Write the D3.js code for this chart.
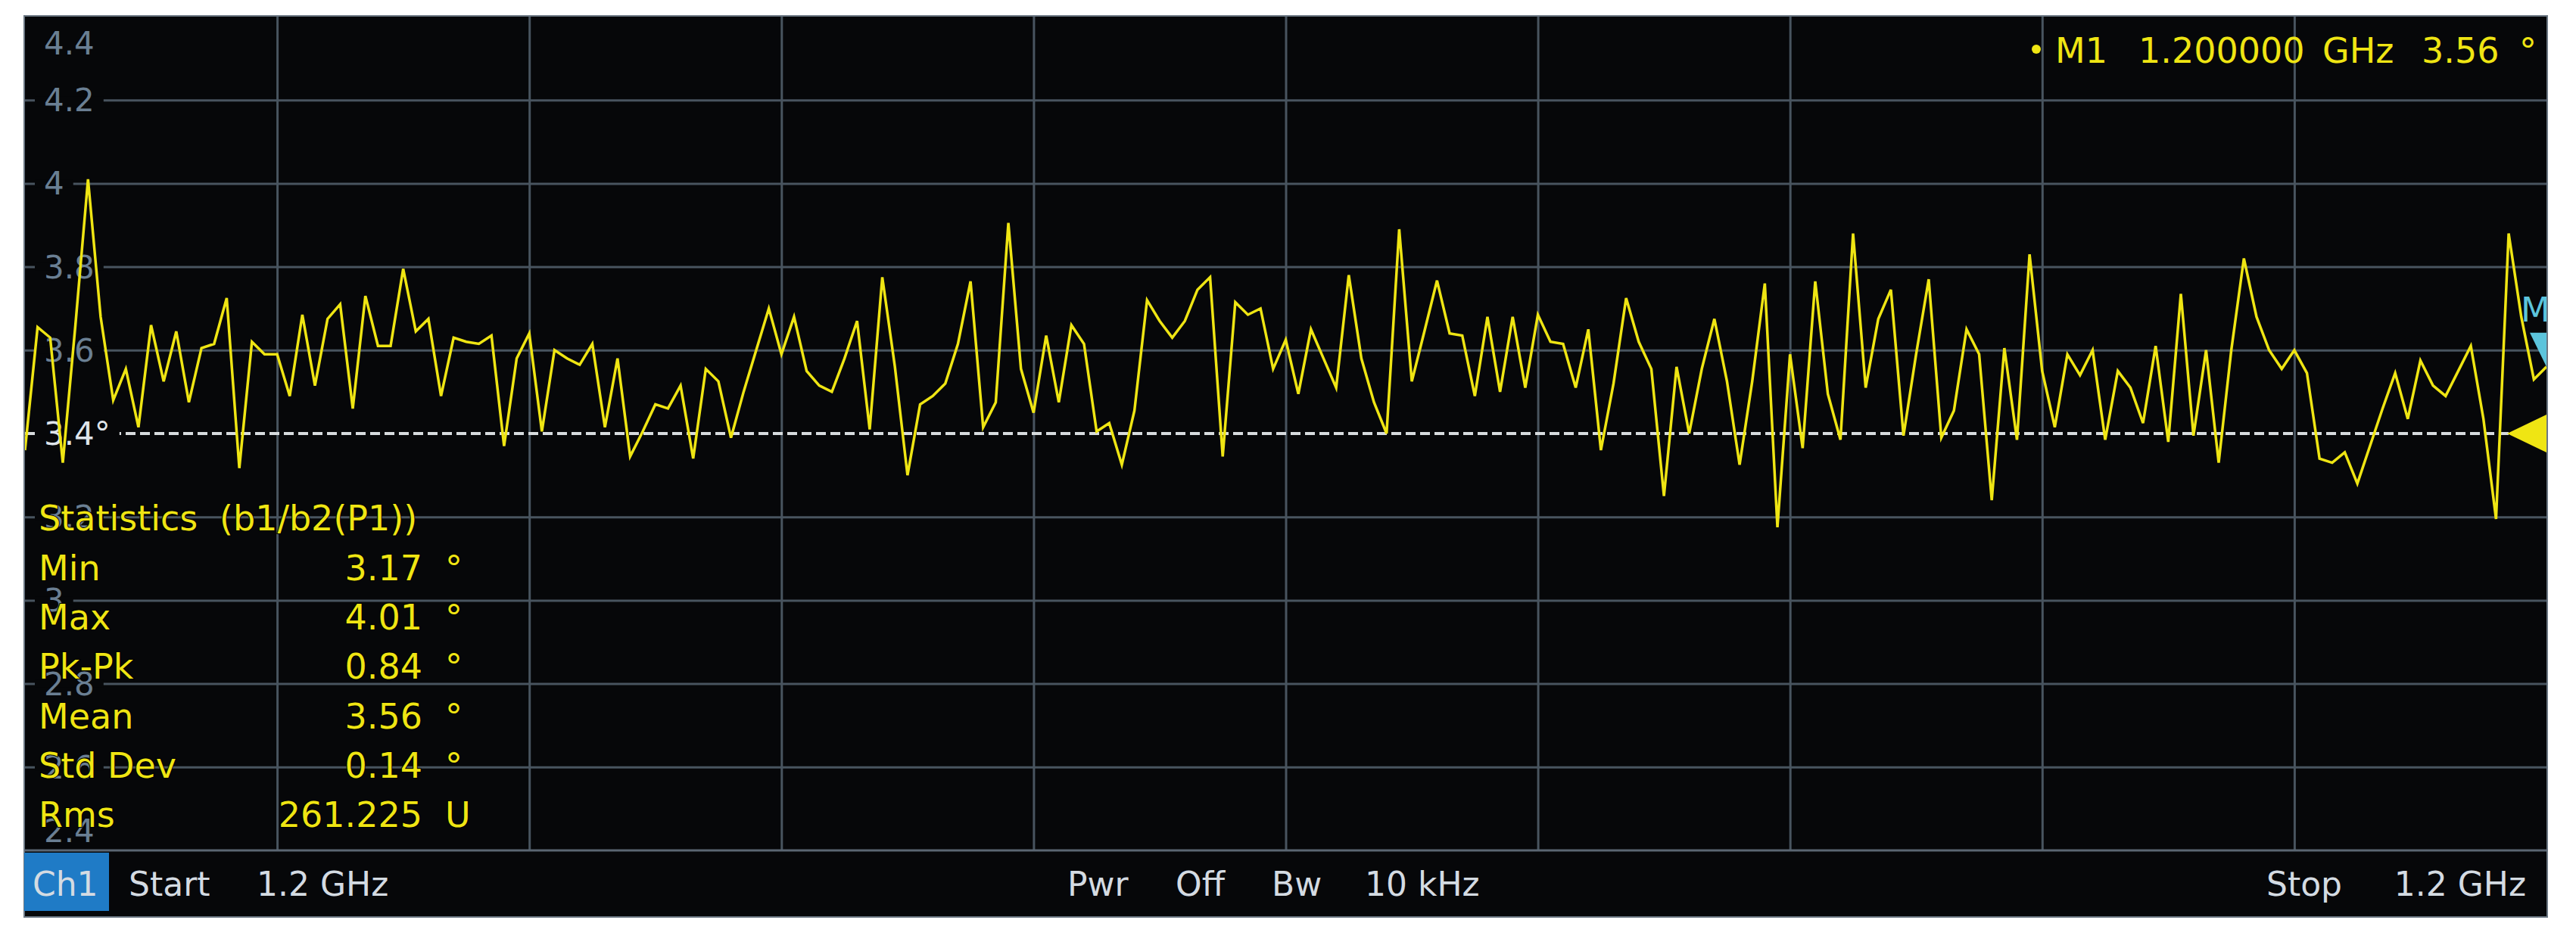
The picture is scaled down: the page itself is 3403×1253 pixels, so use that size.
<!DOCTYPE html>
<html>
<head>
<meta charset="utf-8">
<script src="https://cdn.jsdelivr.net/npm/d3@7"></script>
<style>
  body { margin: 0; background: #ffffff; }
  svg { display: block; font-family: "DejaVu Sans", sans-serif; }
</style>
</head>
<body>
<svg id="chart" width="3403" height="1253"></svg>
<script>
// trace values (degrees), one per sweep point, 201 points
const phase = [
  3.36, 3.655, 3.63, 3.33, 3.66, 4.01, 3.68, 3.48, 3.555, 3.415,
  3.66, 3.525, 3.645, 3.475, 3.605, 3.615, 3.725, 3.317, 3.62, 3.59,
  3.59, 3.49, 3.685, 3.515, 3.675, 3.71, 3.46, 3.73, 3.61, 3.61,
  3.795, 3.645, 3.675, 3.49, 3.63, 3.62, 3.615, 3.635, 3.37, 3.58,
  3.64, 3.405, 3.60, 3.58, 3.565, 3.615, 3.415, 3.58, 3.345, 3.405,
  3.47, 3.46, 3.515, 3.34, 3.555, 3.525, 3.39, 3.50, 3.60, 3.70,
  3.59, 3.68, 3.55, 3.515, 3.50, 3.58, 3.67, 3.41, 3.775, 3.56,
  3.30, 3.47, 3.49, 3.52, 3.615, 3.765, 3.415, 3.475, 3.905, 3.555,
  3.45, 3.635, 3.475, 3.66, 3.615, 3.405, 3.425, 3.325, 3.455, 3.72,
  3.67, 3.63, 3.67, 3.745, 3.775, 3.345, 3.715, 3.685, 3.70, 3.555,
  3.625, 3.495, 3.65, 3.58, 3.51, 3.78, 3.58, 3.475, 3.40, 3.89,
  3.525, 3.645, 3.767, 3.64, 3.635, 3.49, 3.68, 3.50, 3.68, 3.51,
  3.685, 3.62, 3.615, 3.51, 3.65, 3.36, 3.52, 3.725, 3.62, 3.555,
  3.25, 3.56, 3.40, 3.555, 3.675, 3.525, 3.325, 3.525, 3.76, 3.175,
  3.59, 3.365, 3.765, 3.495, 3.385, 3.88, 3.51, 3.675, 3.745, 3.395,
  3.59, 3.77, 3.39, 3.455, 3.65, 3.59, 3.24, 3.605, 3.385, 3.83,
  3.55, 3.415, 3.59, 3.54, 3.60, 3.385, 3.55, 3.51, 3.425, 3.61,
  3.38, 3.735, 3.395, 3.60, 3.33, 3.60, 3.82, 3.68, 3.60, 3.555,
  3.60, 3.545, 3.34, 3.33, 3.355, 3.28, 3.37, 3.46, 3.545, 3.435,
  3.575, 3.515, 3.49, 3.55, 3.61, 3.435, 3.195, 3.88, 3.68, 3.53,
  3.56
];

const yTicks = [4.4, 4.2, 4.0, 3.8, 3.6, 3.4, 3.2, 3.0, 2.8, 2.6, 2.4];
const yTickLabels = ["4.4", "4.2", "4", "3.8", "3.6", "3.4°", "3.2", "3", "2.8", "2.6", "2.4"];
const xGrid = [20, 40, 60, 80, 100, 120, 140, 160, 180];
const refLevel = 3.4;

const statTitle = ["Statistics", "(b1/b2(P1))"];
const statNames = ["Min", "Max", "Pk-Pk", "Mean", "Std Dev", "Rms"];
const statValues = ["3.17", "4.01", "0.84", "3.56", "0.14", "261.225"];
const statUnits = ["°", "°", "°", "°", "°", "U"];

const marker = { name: "M1", index: 200, freq: "1.200000", freqUnit: "GHz", value: "3.56", unit: "°" };

const footerLeft = ["Start", "1.2 GHz"];
const footerMid = ["Pwr", "Off", "Bw", "10 kHz"];
const footerRight = ["Stop", "1.2 GHz"];

// layout
const plotL = 33, plotR = 3364, plotT = 22, plotB = 1124, panelB = 1211;
const bg = "#060709", gridCol = "#48545f", yellow = "#efe513";

const svg = d3.select("#chart");

const x = d3.scaleLinear().domain([0, phase.length - 1]).range([plotL, plotR]);
const y = d3.scaleLinear().domain([2.4, 4.4]).range([plotB, plotT]);

svg.append("rect")
   .attr("x", plotL - 1).attr("y", plotT - 1)
   .attr("width", plotR - plotL + 2).attr("height", panelB - plotT + 2)
   .attr("fill", bg)
   .attr("stroke", "#6b7783").attr("stroke-width", 2);

svg.append("defs").append("clipPath").attr("id", "plot")
   .append("rect")
   .attr("x", plotL).attr("y", plotT)
   .attr("width", plotR - plotL).attr("height", plotB - plotT);

// grid
const gx = svg.append("g")
   .attr("transform", `translate(0,${plotB})`)
   .call(d3.axisBottom(x).tickValues(xGrid).tickSize(-(plotB - plotT)).tickFormat(""));
const gy = svg.append("g")
   .attr("transform", `translate(${plotL},0)`)
   .call(d3.axisLeft(y).tickValues(yTicks.filter(v => v !== refLevel && v !== 4.4 && v !== 2.4))
                       .tickSize(-(plotR - plotL)).tickFormat(""));
[gx, gy].forEach(g => {
  g.select(".domain").remove();
  g.selectAll("line").attr("stroke", gridCol).attr("stroke-width", 3);
});

// separator between grid and footer
svg.append("line")
   .attr("x1", plotL).attr("x2", plotR)
   .attr("y1", plotB).attr("y2", plotB)
   .attr("stroke", "#5a6672").attr("stroke-width", 3);

// reference level dashed line
svg.append("line")
   .attr("x1", plotL).attr("x2", plotR)
   .attr("y1", y(refLevel)).attr("y2", y(refLevel))
   .attr("stroke", "#d6dadd").attr("stroke-width", 4)
   .attr("stroke-dasharray", "13,6");

// y labels with black boxes over the grid lines
const labels = svg.append("g");
yTicks.forEach((v, i) => {
  const ly = y(v);
  const base = Math.min(Math.max(ly + 15, plotT + 50), plotB - 11);
  const isRef = v === refLevel;
  const t = labels.append("text")
     .attr("x", 58).attr("y", base)
     .attr("font-size", 42)
     .attr("fill", isRef ? "#dfe4ea" : "#6a7f93")
     .text(yTickLabels[i]);
  if (v !== 4.4 && v !== 2.4) {
    const len = t.node().getComputedTextLength();
    labels.insert("rect", "text")
       .attr("x", 46).attr("y", ly - 5)
       .attr("width", 58 + len + 12 - 46).attr("height", 10)
       .attr("fill", bg);
  }
});

// trace
svg.append("path")
   .datum(phase)
   .attr("clip-path", "url(#plot)")
   .attr("fill", "none")
   .attr("stroke", yellow)
   .attr("stroke-width", 3.5)
   .attr("stroke-linejoin", "miter")
   .attr("d", d3.line().x((d, i) => x(i)).y(d => y(d)));

// statistics block
const stat = svg.append("g")
   .attr("font-size", 46)
   .attr("fill", yellow)
   .attr("stroke", "#000").attr("stroke-width", 2).attr("paint-order", "stroke");
stat.append("text").attr("x", 51).attr("y", 701).text(statTitle[0]);
stat.append("text").attr("x", 290).attr("y", 701).text(statTitle[1]);
statNames.forEach((n, i) => {
  const by = 767 + i * 65.2;
  stat.append("text").attr("x", 51).attr("y", by).text(n);
  stat.append("text").attr("x", 558).attr("y", by).attr("text-anchor", "end").text(statValues[i]);
  stat.append("text").attr("x", 588).attr("y", by).text(statUnits[i]);
});

// marker readout (top right)
const mr = svg.append("g").attr("font-size", 46).attr("fill", yellow);
mr.append("circle").attr("cx", 2690).attr("cy", 65).attr("r", 6);
mr.append("text").attr("x", 2715).attr("y", 83).text(marker.name);
mr.append("text").attr("x", 2825).attr("y", 83).text(marker.freq);
mr.append("text").attr("x", 3068).attr("y", 83).text(marker.freqUnit);
mr.append("text").attr("x", 3199).attr("y", 83).text(marker.value);
mr.append("text").attr("x", 3328).attr("y", 83).text(marker.unit);

// marker symbol on the trace (clipped at right edge)
const mx = x(marker.index), my = y(phase[marker.index]);
const mk = svg.append("g").attr("clip-path", "url(#plot)");
mk.append("path")
  .attr("d", `M${mx - 22},${my - 45}L${mx + 22},${my - 45}L${mx},${my}Z`)
  .attr("fill", "#5cc4dc");
mk.append("text")
  .attr("x", mx - 34).attr("y", my - 60)
  .attr("font-size", 45).attr("fill", "#5cc4dc")
  .text(marker.name);

// reference level arrow
const ry = y(refLevel);
svg.append("path")
   .attr("d", `M${plotR - 52},${ry}L${plotR},${ry - 25}L${plotR},${ry + 25}Z`)
   .attr("fill", yellow);

// footer
svg.append("rect")
   .attr("x", 32).attr("y", 1127).attr("width", 112).attr("height", 77)
   .attr("fill", "#1f7bc6");
const ft = svg.append("g").attr("font-size", 44).attr("fill", "#d4dbe2");
ft.append("text").attr("x", 43).attr("y", 1184).text("Ch1");
ft.append("text").attr("x", 170).attr("y", 1184).text(footerLeft[0]);
ft.append("text").attr("x", 339).attr("y", 1184).text(footerLeft[1]);
[1410, 1553, 1680, 1803].forEach((fx, i) => {
  ft.append("text").attr("x", fx).attr("y", 1184).text(footerMid[i]);
});
ft.append("text").attr("x", 2994).attr("y", 1184).text(footerRight[0]);
ft.append("text").attr("x", 3337).attr("y", 1184).attr("text-anchor", "end").text(footerRight[1]);
</script>
</body>
</html>
